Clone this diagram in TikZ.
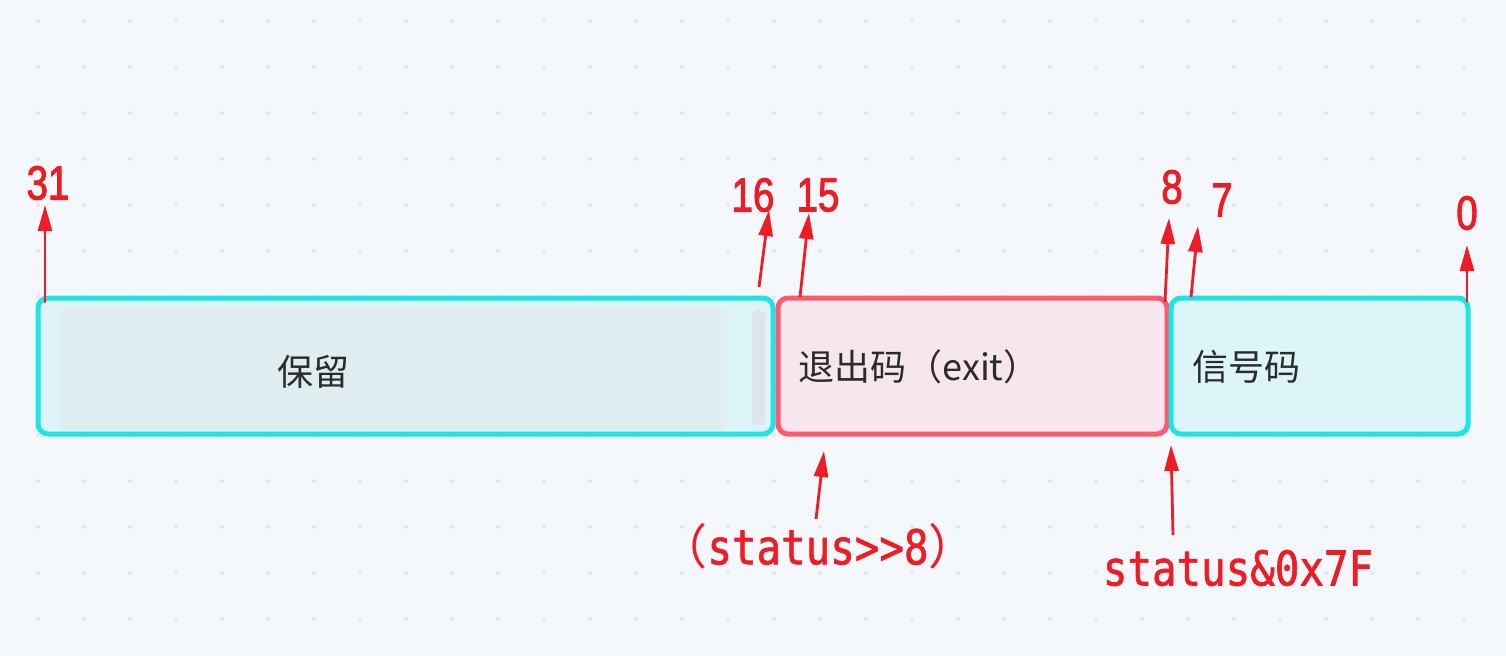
\documentclass[tikz,border=0pt]{standalone}
\usepackage{fontspec}
\usetikzlibrary{arrows.meta}
\newfontfamily\cjk{Noto Sans CJK SC}
\newfontfamily\numfont[FakeStretch=0.8,FakeBold=2]{Liberation Sans}
\newfontfamily\codefont[FakeStretch=0.85,FakeBold=1.3]{DejaVu Sans Mono}
\definecolor{bgc}{HTML}{F4F8FC}
\definecolor{dotc}{HTML}{E3E8ED}
\definecolor{barc}{HTML}{DDE5EC}
\definecolor{cyanc}{HTML}{1EE5E4}
\definecolor{pinkc}{HTML}{FF586F}
\definecolor{redc}{HTML}{EE1C24}
\definecolor{resfill}{HTML}{DDF5F8}
\definecolor{resin}{HTML}{DFECF0}
\definecolor{exitfill}{HTML}{F7E6EE}
\definecolor{sigfill}{HTML}{DBF5F9}
\definecolor{txtc}{HTML}{2B2B2B}
\begin{document}
\begin{tikzpicture}[x=0.5pt,y=-0.5pt,
  field/.style={rounded corners=5pt, line width=2.5pt, minimum height=68pt, inner sep=0pt},
  fieldtext/.style={text=txtc, font=\cjk\fontsize{18}{18}\selectfont, inner sep=0pt},
  bitnum/.style={text=redc, font=\numfont\fontsize{24}{24}\selectfont, inner sep=0pt},
  codetext/.style={text=redc, font=\codefont\fontsize{24}{24}\selectfont, inner sep=0pt},
  arr/.style={redc, line width=1.4pt, -{Triangle[length=13pt,width=7pt]}}]
\fill[bgc] (0,0) rectangle (1506,655);
\foreach \i in {0,...,31}
  \foreach \j in {0,...,13}
    \fill[dotc] (38+46*\i,21+46*\j) circle (1pt);
\node[field, draw=cyanc, fill=resfill, minimum width=367.5pt] (res) at (405.5,366){};
\fill[resin, rounded corners=4pt] (60,308) rectangle (727,430);
\fill[barc, rounded corners=3pt] (752,310) rectangle (765,425);
\node[field, draw=pinkc, fill=exitfill, minimum width=194.5pt] (exit) at (972.5,366){};
\node[field, draw=cyanc, fill=sigfill, minimum width=148.5pt] (sig) at (1319.5,366){};
\node[fieldtext] (restxt) at (313,372){保留};
\node[fieldtext, anchor=west] (exittxt) at (798,367){退出码（exit）};
\node[fieldtext, anchor=west] (sigtxt) at (1192,367){信号码};
\node[bitnum] (b31) at (48,183){31};
\node[bitnum] (b16) at (753,195){16};
\node[bitnum] (b15) at (818,195){15};
\node[bitnum] (b8) at (1172,187){8};
\node[bitnum] (b7) at (1222,200){7};
\node[bitnum] (b0) at (1467,213){0};
\node[codetext] (shr) at (818,546){{\cjk（}status>{}>8{\cjk）}};
\node[codetext] (mask) at (1238,568){status\&0x7F};
\coordinate (t31) at (45,303);
\coordinate (h31) at (45,205);
\coordinate (t16) at (759,287);
\coordinate (h16) at (769,210);
\coordinate (t15) at (800,297);
\coordinate (h15) at (809,213);
\coordinate (t8) at (1165,302);
\coordinate (h8) at (1169,218);
\coordinate (t7) at (1191,297);
\coordinate (h7) at (1198,226);
\coordinate (t0) at (1467,302);
\coordinate (h0) at (1467,245);
\coordinate (tshr) at (816,519);
\coordinate (hshr) at (824,451);
\coordinate (tmask) at (1173,535);
\coordinate (hmask) at (1171,445);
\draw[arr](t31) -- (h31);
\draw[arr](t16) -- (h16);
\draw[arr](t15) -- (h15);
\draw[arr](t8) -- (h8);
\draw[arr](t7) -- (h7);
\draw[arr](t0) -- (h0);
\draw[arr](tshr) -- (hshr);
\draw[arr](tmask) -- (hmask);
\end{tikzpicture}
\end{document}
